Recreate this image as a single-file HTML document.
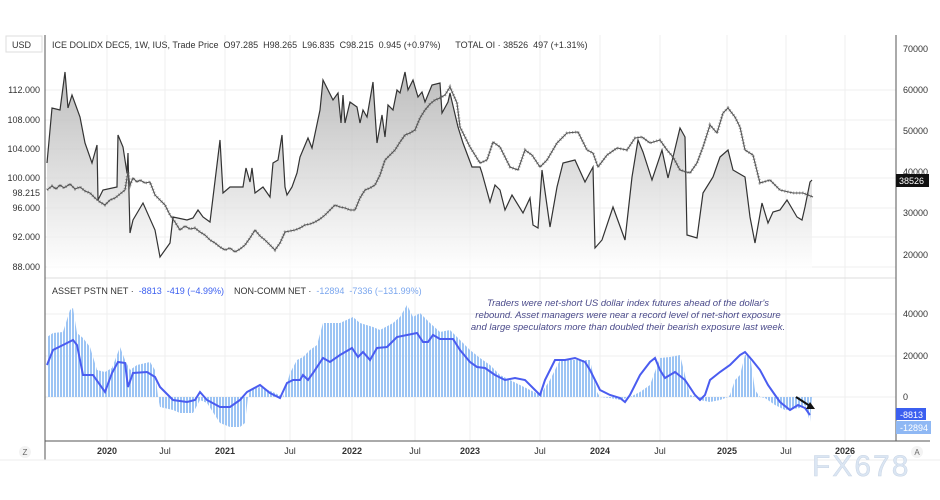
<!DOCTYPE html>
<html><head><meta charset="utf-8"><style>
body{margin:0;background:#fff;}
svg{display:block;font-family:"Liberation Sans",sans-serif;}
</style></head><body>
<svg width="940" height="500" viewBox="0 0 940 500">
<defs>
<linearGradient id="g" x1="0" y1="0" x2="0" y2="1">
<stop offset="0" stop-color="#a8a8a8"/><stop offset="1" stop-color="#ffffff"/>
</linearGradient>
<pattern id="bars" width="3" height="10" patternUnits="userSpaceOnUse">
<rect x="0" y="0" width="2" height="10" fill="#9cc4f4"/>
</pattern>
</defs>
<rect x="0" y="0" width="940" height="500" fill="#fff"/>
<g stroke="#efefef" stroke-width="1">
<line x1="45" y1="90" x2="896" y2="90"/><line x1="45" y1="120" x2="896" y2="120"/>
<line x1="45" y1="149" x2="896" y2="149"/><line x1="45" y1="178" x2="896" y2="178"/>
<line x1="45" y1="208" x2="896" y2="208"/><line x1="45" y1="237" x2="896" y2="237"/>
<line x1="45" y1="267" x2="896" y2="267"/>
<line x1="45" y1="314" x2="896" y2="314"/><line x1="45" y1="356" x2="896" y2="356"/><line x1="45" y1="397" x2="896" y2="397"/>
<line x1="107" y1="35" x2="107" y2="441"/><line x1="165" y1="35" x2="165" y2="441"/>
<line x1="225" y1="35" x2="225" y2="441"/><line x1="290" y1="35" x2="290" y2="441"/>
<line x1="352" y1="35" x2="352" y2="441"/><line x1="415" y1="35" x2="415" y2="441"/>
<line x1="470" y1="35" x2="470" y2="441"/><line x1="540" y1="35" x2="540" y2="441"/>
<line x1="600" y1="35" x2="600" y2="441"/><line x1="660" y1="35" x2="660" y2="441"/>
<line x1="727" y1="35" x2="727" y2="441"/><line x1="786" y1="35" x2="786" y2="441"/>
<line x1="845" y1="35" x2="845" y2="441"/>
</g>
<line x1="45" y1="278" x2="896" y2="278" stroke="#ddd"/>
<polygon fill="url(#g)" opacity="0.75" points="47,270 47,163 52,108 60,110 65,72 68,108 72,95 80,117 85,143 92,163 97,145 98,200 103,190 117,187 118,135 123,147 127,173 128,153 130,233 133,220 143,203 155,230 160,257 165,250 170,243 173,217 187,220 193,218 198,210 203,217 210,222 220,140 223,193 230,187 237,187 243,187 246,168 250,182 252,168 255,193 263,187 270,197 273,163 278,160 282,135 285,187 287,195 292,187 297,173 300,157 308,138 312,148 320,110 323,80 333,100 338,93 341,123 343,95 345,123 350,102 357,107 360,123 363,110 367,117 373,82 377,143 382,115 385,137 388,105 393,110 397,90 400,93 405,72 408,90 413,80 418,97 422,92 425,102 432,85 440,83 442,113 448,102 450,93 458,127 463,143 472,167 480,167 482,173 490,202 495,185 500,190 505,210 512,195 523,213 530,198 533,225 538,228 542,170 550,227 557,187 563,163 575,160 585,182 593,167 595,248 602,240 613,207 625,240 632,177 638,140 643,152 652,180 662,150 668,178 680,128 685,137 687,235 697,238 703,193 713,177 720,157 728,150 733,170 745,177 750,217 755,243 762,203 768,223 773,212 780,210 787,200 797,217 802,220 805,207 810,182 812,180 812,270"/>
<polyline fill="none" stroke="#333" stroke-width="1.2" points="47,163 52,108 60,110 65,72 68,108 72,95 80,117 85,143 92,163 97,145 98,200 103,190 117,187 118,135 123,147 127,173 128,153 130,233 133,220 143,203 155,230 160,257 165,250 170,243 173,217 187,220 193,218 198,210 203,217 210,222 220,140 223,193 230,187 237,187 243,187 246,168 250,182 252,168 255,193 263,187 270,197 273,163 278,160 282,135 285,187 287,195 292,187 297,173 300,157 308,138 312,148 320,110 323,80 333,100 338,93 341,123 343,95 345,123 350,102 357,107 360,123 363,110 367,117 373,82 377,143 382,115 385,137 388,105 393,110 397,90 400,93 405,72 408,90 413,80 418,97 422,92 425,102 432,85 440,83 442,113 448,102 450,93 458,127 463,143 472,167 480,167 482,173 490,202 495,185 500,190 505,210 512,195 523,213 530,198 533,225 538,228 542,170 550,227 557,187 563,163 575,160 585,182 593,167 595,248 602,240 613,207 625,240 632,177 638,140 643,152 652,180 662,150 668,178 680,128 685,137 687,235 697,238 703,193 713,177 720,157 728,150 733,170 745,177 750,217 755,243 762,203 768,223 773,212 780,210 787,200 797,217 802,220 805,207 810,182 812,180"/>
<g fill="none" stroke="#555">
<polyline stroke-width="1.1" points="47,190 52,186 56,189 60,185 64,188 70,184 75,189 80,187 85,191 90,193 95,198 100,202 105,205 110,200 115,198 120,194 125,190 128,172 130,185 133,178 137,182 140,180 145,183 150,182 155,195 160,200 165,205 170,215 175,222 180,230 185,226 190,229 195,228 200,232 205,235 210,240 215,243 220,247 225,250 230,248 235,252 240,249 245,245 250,238 255,230 260,236 265,240 270,245 275,250 280,243 285,232 290,231 295,230 300,228 305,225 310,224 315,222 320,219 325,215 330,210 335,205 340,207 345,208 350,210 355,210 360,198 365,190 370,188 375,185 380,175 385,160 390,155 395,150 400,142 405,135 410,133 415,130 420,118 425,110 430,104 435,100 440,98 445,95 450,87 457,103 460,127 470,147 480,163 487,160 493,142 500,147 510,167 518,170 525,150 532,155 540,167 547,160 557,143 567,133 578,132 587,150 593,153 598,167 607,155 617,148 627,150 635,138 642,137 650,143 660,140 667,150 673,157 680,170 690,173 697,163 703,147 710,125 717,133 723,113 728,108 735,117 740,127 745,150 753,155 760,183 770,180 780,190 793,193 803,193 813,197"/>
<polyline stroke-width="3" stroke-dasharray="1,2" opacity="0.5" points="47,190 52,186 56,189 60,185 64,188 70,184 75,189 80,187 85,191 90,193 95,198 100,202 105,205 110,200 115,198 120,194 125,190 128,172 130,185 133,178 137,182 140,180 145,183 150,182 155,195 160,200 165,205 170,215 175,222 180,230 185,226 190,229 195,228 200,232 205,235 210,240 215,243 220,247 225,250 230,248 235,252 240,249 245,245 250,238 255,230 260,236 265,240 270,245 275,250 280,243 285,232 290,231 295,230 300,228 305,225 310,224 315,222 320,219 325,215 330,210 335,205 340,207 345,208 350,210 355,210 360,198 365,190 370,188 375,185 380,175 385,160 390,155 395,150 400,142 405,135 410,133 415,130 420,118 425,110 430,104 435,100 440,98 445,95 450,87 457,103 460,127 470,147 480,163 487,160 493,142 500,147 510,167 518,170 525,150 532,155 540,167 547,160 557,143 567,133 578,132 587,150 593,153 598,167 607,155 617,148 627,150 635,138 642,137 650,143 660,140 667,150 673,157 680,170 690,173 697,163 703,147 710,125 717,133 723,113 728,108 735,117 740,127 745,150 753,155 760,183 770,180 780,190 793,193 803,193 813,197"/>
</g>
<polygon fill="url(#bars)" points="47,397 47,337 53,333 63,332 70,310 73,308 77,333 83,338 90,347 97,370 105,372 112,368 120,347 125,360 130,370 137,365 150,362 155,370 158,397 160,407 173,410 180,413 193,413 200,400 207,403 220,423 230,427 240,427 245,423 248,397 250,390 260,387 273,392 283,397 290,373 297,360 303,357 310,350 317,345 323,323 340,323 353,317 360,323 373,327 380,330 393,323 400,317 407,305 413,317 420,313 430,323 440,332 450,330 460,340 470,350 480,358 490,365 500,375 510,380 520,385 530,390 540,395 550,380 560,360 570,360 580,360 590,360 597,392 600,397 610,398 620,400 630,397 640,392 650,385 660,358 670,357 680,355 690,395 697,397 700,400 710,402 720,400 728,397 730,395 735,380 740,375 745,355 750,355 755,390 760,397 765,398 775,405 785,410 800,408 805,405 810,422 812,397"/>
<polyline fill="none" stroke="#4a5cf0" stroke-width="2" points="47,365 53,350 63,345 73,340 77,345 83,375 93,375 105,392 112,373 118,362 125,363 128,387 133,373 147,372 155,377 160,387 173,400 187,402 195,400 200,392 207,400 220,407 230,407 240,400 247,392 260,385 270,393 280,398 287,383 293,380 300,380 303,375 308,380 313,373 323,358 330,362 340,355 352,348 358,357 363,352 370,360 377,348 387,347 397,337 407,335 417,333 423,342 428,342 433,335 440,339 453,339 460,350 470,362 477,367 485,368 495,375 505,380 515,378 525,380 535,390 540,395 545,380 555,360 565,360 575,358 585,362 590,370 600,390 610,395 620,398 625,402 630,395 640,375 650,362 655,358 660,370 665,378 675,372 685,380 695,395 700,400 705,395 710,380 720,372 730,365 740,355 745,352 752,360 760,370 768,385 775,395 780,402 790,410 798,405 805,408 810,415"/>
<line x1="796" y1="397" x2="810" y2="406" stroke="#111" stroke-width="2"/>
<polygon points="815,409 806,409 810,402" fill="#111"/>
<line x1="45" y1="35" x2="45" y2="460" stroke="#555"/>
<line x1="896" y1="35" x2="896" y2="441" stroke="#555"/>
<line x1="45" y1="441" x2="930" y2="441" stroke="#555"/>
<line x1="0" y1="460" x2="940" y2="460" stroke="#eee"/>
<g font-size="9" fill="#333" text-anchor="end">
<text x="40" y="93">112.000</text><text x="40" y="123">108.000</text><text x="40" y="152">104.000</text>
<text x="40" y="181">100.000</text><text x="40" y="196">98.215</text><text x="40" y="211">96.000</text>
<text x="40" y="240">92.000</text><text x="40" y="270">88.000</text>
</g>
<rect x="6" y="36" width="36" height="16" fill="#fff" stroke="#ddd"/>
<text x="12" y="48" font-size="9" fill="#333">USD</text>
<g font-size="9" fill="#333">
<text x="903" y="52">70000</text><text x="903" y="93">60000</text><text x="903" y="134">50000</text>
<text x="903" y="175">40000</text><text x="903" y="216">30000</text><text x="903" y="258">20000</text>
<text x="903" y="317">40000</text><text x="903" y="359">20000</text><text x="903" y="400">0</text>
</g>
<rect x="896" y="174" width="33" height="13" fill="#111"/>
<text x="899" y="184" font-size="9" fill="#fff">38526</text>
<rect x="896" y="408" width="30" height="12" fill="#3b5ff0"/>
<text x="900" y="418" font-size="9" fill="#fff">-8813</text>
<rect x="896" y="421" width="35" height="13" fill="#8fb8f4"/>
<text x="900" y="431" font-size="9" fill="#fff">-12894</text>
<g font-size="9" fill="#333" text-anchor="middle">
<text x="107" y="454" font-weight="bold">2020</text><text x="165" y="454">Jul</text>
<text x="225" y="454" font-weight="bold">2021</text><text x="290" y="454">Jul</text>
<text x="352" y="454" font-weight="bold">2022</text><text x="415" y="454">Jul</text>
<text x="470" y="454" font-weight="bold">2023</text><text x="540" y="454">Jul</text>
<text x="600" y="454" font-weight="bold">2024</text><text x="660" y="454">Jul</text>
<text x="727" y="454" font-weight="bold">2025</text><text x="786" y="454">Jul</text>
<text x="845" y="454" font-weight="bold">2026</text>
</g>
<circle cx="25" cy="452" r="6" fill="#f3f3f3"/><text x="25" y="455" font-size="8" fill="#666" text-anchor="middle">Z</text>
<circle cx="917" cy="452" r="6" fill="#f3f3f3"/><text x="917" y="455" font-size="8" fill="#666" text-anchor="middle">A</text>
<text x="52" y="48" font-size="9" fill="#333" xml:space="preserve">ICE DOLIDX DEC5, 1W, IUS, Trade Price  O97.285  H98.265  L96.835  C98.215  0.945 (+0.97%)      TOTAL OI · 38526  497 (+1.31%)</text>
<text x="52" y="294" font-size="9" fill="#333" xml:space="preserve">ASSET PSTN NET ·  <tspan fill="#3b5ff0">-8813  -419 (−4.99%)</tspan>    NON-COMM NET ·  <tspan fill="#7aa6ee">-12894  -7336 (−131.99%)</tspan></text>
<g font-size="9.5" fill="#4a4a8a" font-style="italic" text-anchor="middle">
<text x="628" y="306">Traders were net-short US dollar index futures ahead of the dollar's</text>
<text x="628" y="318">rebound. Asset managers were near a record level of net-short exposure</text>
<text x="628" y="330">and large speculators more than doubled their bearish exposure last week.</text>
</g>
<text x="812" y="476" font-size="30" fill="#dbe6f3" stroke="#c8d4e4" stroke-width="0.5" letter-spacing="2">FX678</text>
</svg>
</body></html>
